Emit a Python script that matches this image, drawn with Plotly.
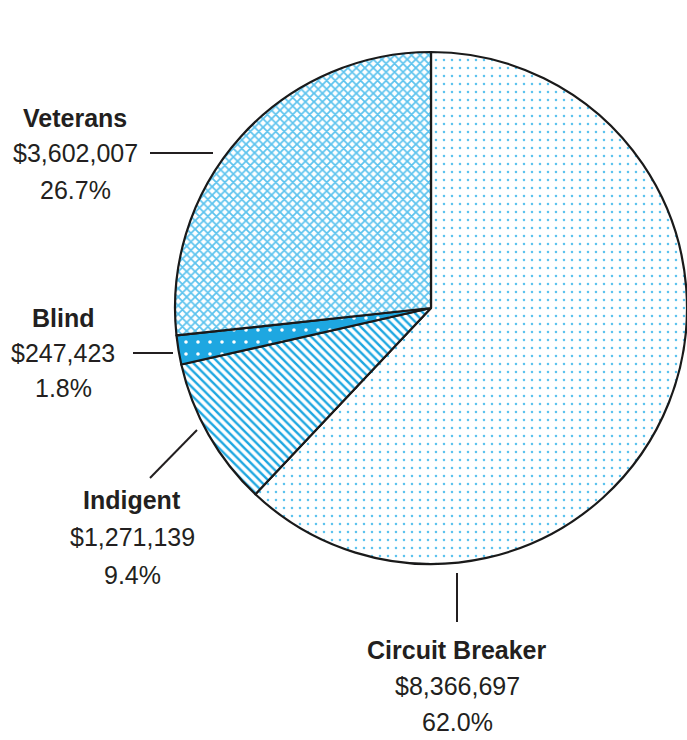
import plotly.graph_objects as go

labels = ["Circuit Breaker", "Indigent", "Blind", "Veterans"]
values = [8366697, 1271139, 247423, 3602007]
pct_text = ["62.0%", "9.4%", "1.8%", "26.7%"]

BLUE = "#1ea7e1"
LIGHT = "#5cc3ee"
bg_colors = ["white", "white", BLUE, "white"]
fg_colors = [LIGHT, BLUE, "white", LIGHT]
shapes_pat = [".", "\\", ".", "x"]
pat_size = [8, 6, 12, 6]
pat_solid = [0.08, 0.4, 0.07, 0.5]

W, H = 687, 740
cx, cy, r = 432, 308, 257

fig = go.Figure(go.Pie(
    labels=labels, values=values, sort=False, direction="clockwise", rotation=0,
    textinfo="none", hoverinfo="label+value+percent",
    marker=dict(colors=bg_colors, line=dict(color="#1a1a1a", width=2.2),
                pattern=dict(shape=shapes_pat, fgcolor=fg_colors, bgcolor=bg_colors,
                             size=pat_size, solidity=pat_solid, fillmode="replace")),
    domain=dict(x=[(cx - r) / W, 1.0], y=[1 - (cy + r) / H, 1 - (cy - r) / H]),
    showlegend=False,
))

FONT = "Liberation Sans, Arial, sans-serif"
label_pos = {
    "Veterans": (75, [118, 153, 190]),
    "Blind": (63, [318, 353, 388]),
    "Indigent": (132, [500, 537, 575]),
    "Circuit Breaker": (457, [650, 686, 722]),
}
def money(v):
    return "${:,}".format(v)

for lab, v, p in zip(labels, values, pct_text):
    x, ys = label_pos[lab]
    for txt, y in zip([f"<b>{lab}</b>", money(v), p], ys):
        fig.add_annotation(x=x / W, y=1 - y / H, xref="paper", yref="paper",
                           text=txt, showarrow=False,
                           font=dict(family=FONT, size=25, color="#231f20"),
                           align="center", xanchor="center", yanchor="middle")

leaders = [((150, 153), (213, 153)), ((133, 353), (173, 353)),
           ((150, 478), (197, 430)), ((457, 573), (457, 622))]
for (x0, y0), (x1, y1) in leaders:
    fig.add_shape(type="line", xref="paper", yref="paper",
                  x0=x0 / W, y0=1 - y0 / H, x1=x1 / W, y1=1 - y1 / H,
                  line=dict(color="#231f20", width=2))

fig.update_layout(width=W, height=H, margin=dict(l=0, r=0, t=0, b=0),
                  paper_bgcolor="white", plot_bgcolor="white")
fig.write_html("out.html", config={"displayModeBar": False},
               post_script="document.body.style.margin='0';document.body.style.overflow='hidden';")
